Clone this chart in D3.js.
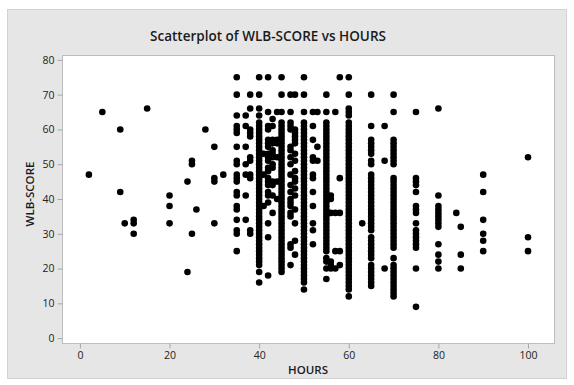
<!DOCTYPE html>
<html>
<head>
<meta charset="utf-8">
<script src="https://cdn.jsdelivr.net/npm/d3@7"></script>
<style>
  body { margin: 0; background: #fff; }
  svg { display: block; font-family: "Open Sans", "Noto Sans", sans-serif; }
</style>
</head>
<body>
<svg id="chart" width="574" height="385"></svg>
<script>
// hours value of each column of points, and the WLB-SCORE values seen in that column
const hoursColumns = [2, 5, 9, 10, 12, 15, 20, 24, 25, 26, 28, 30, 32, 35, 37, 38, 40, 41, 42, 43, 44, 45, 47, 48, 50, 52, 53, 55, 56, 57, 58, 60, 63, 65, 68, 70, 75, 80, 84, 85, 90, 100];
const scoreColumns = [
  [47],
  [65],
  [60, 42],
  [33],
  [34, 33, 30],
  [66],
  [41, 38, 33],
  [45, 19],
  [51, 50, 30],
  [37],
  [60],
  [55, 46, 45, 33],
  [47],
  [75, 70, 64, 61, 60, 59, 55, 51, 50, 47, 46, 45, 42, 41, 38, 37, 34, 31, 30, 25],
  [64, 61, 55, 50, 47, 41, 34],
  [70, 66, 60, 59, 58, 52, 51, 47, 46, 31, 30],
  [75, 70, 66, 64, 62, 61, 60, 59, 58, 57, 56, 55, 54, 53, 52, 51, 50, 49, 48, 47, 46, 45, 44, 43, 42, 41, 40, 39, 38, 37, 36, 35, 34, 33, 32, 31, 30, 29, 28, 27, 26, 25, 24, 23, 22, 21, 19, 16],
  [53, 47, 38],
  [75, 65, 61, 60, 57, 56, 55, 53, 52, 51, 49, 48, 46, 45, 44, 42, 41, 39, 33, 29, 18],
  [63, 61, 57, 56, 54, 53, 52, 50, 49, 45, 44, 41, 36],
  [65, 57, 56, 52, 45, 40],
  [75, 70, 65, 62, 61, 60, 59, 58, 57, 56, 55, 54, 53, 52, 51, 50, 49, 48, 47, 46, 45, 44, 43, 42, 41, 40, 39, 38, 37, 36, 35, 34, 33, 32, 31, 30, 29, 28, 27, 26, 25, 24, 23, 22, 21, 20, 19],
  [70, 65, 62, 61, 60, 55, 54, 52, 50, 47, 44, 42, 40, 39, 38, 36, 35, 27, 26, 21],
  [70, 60, 59, 58, 57, 56, 53, 51, 48, 46, 45, 43, 41, 37, 33, 28, 24],
  [75, 70, 65, 62, 61, 60, 59, 58, 57, 56, 55, 54, 53, 52, 51, 50, 49, 48, 47, 46, 45, 44, 43, 42, 41, 40, 39, 38, 37, 36, 35, 34, 33, 32, 31, 30, 29, 28, 27, 26, 25, 24, 23, 22, 21, 20, 19, 18, 17, 16, 14],
  [65, 61, 57, 52, 51, 47, 46, 42, 38, 33, 31, 27],
  [65, 55, 51],
  [70, 65, 62, 61, 60, 59, 58, 57, 56, 55, 54, 53, 52, 51, 50, 49, 48, 47, 46, 45, 44, 43, 42, 41, 40, 39, 38, 37, 36, 35, 34, 33, 32, 31, 30, 29, 28, 27, 26, 25, 23, 22, 20, 17],
  [41, 40, 36, 22, 21, 20],
  [65, 36, 25, 20],
  [75, 46, 36, 25, 21],
  [75, 70, 66, 65, 64, 62, 61, 60, 59, 58, 57, 56, 55, 54, 53, 52, 51, 50, 49, 48, 47, 46, 45, 44, 43, 42, 41, 40, 39, 38, 37, 36, 35, 34, 33, 32, 31, 30, 29, 28, 27, 26, 25, 24, 23, 22, 21, 20, 19, 18, 17, 16, 15, 14, 12],
  [33],
  [70, 61, 57, 56, 55, 54, 53, 51, 50, 47, 46, 45, 44, 43, 42, 41, 40, 39, 38, 37, 36, 35, 34, 33, 32, 31, 29, 28, 27, 26, 25, 24, 23, 21, 20, 19, 18, 17, 16, 15],
  [61, 51, 20],
  [70, 65, 57, 56, 55, 54, 53, 52, 51, 50, 46, 45, 44, 43, 42, 41, 40, 39, 38, 37, 36, 35, 34, 33, 32, 31, 30, 29, 28, 27, 26, 23, 21, 20, 19, 18, 17, 16, 15, 14, 13, 12],
  [65, 46, 45, 44, 42, 38, 37, 36, 33, 31, 30, 29, 28, 27, 26, 20, 9],
  [66, 41, 38, 37, 36, 35, 34, 33, 32, 27, 24, 22, 20],
  [36],
  [32, 24, 20],
  [47, 42, 34, 30, 28, 25],
  [52, 29, 25]
];
const xTicks = [0, 20, 40, 60, 80, 100];
const yTicks = [0, 10, 20, 30, 40, 50, 60, 70, 80];

const points = hoursColumns.flatMap((h, i) => scoreColumns[i].map((s) => ({ hours: h, score: s })));

const svg = d3.select("#chart");
const plot = { left: 62, right: 554, top: 55, bottom: 343 };

const x = d3.scaleLinear().domain([-4, 105.8]).range([plot.left, plot.right]);
const y = d3.scaleLinear().domain([-1.4, 81.4]).range([plot.bottom, plot.top]);

// outer grey panel
svg.append("rect")
  .attr("x", 7.5).attr("y", 9.5)
  .attr("width", 559).attr("height", 369)
  .attr("fill", "#e6e6e6")
  .attr("stroke", "#d2d2d2");

svg.append("rect")
  .attr("x", plot.left + 0.5).attr("y", plot.top + 0.5)
  .attr("width", plot.right - plot.left).attr("height", plot.bottom - plot.top)
  .attr("fill", "#fff")
  .attr("stroke", "#bdbdbd");

const xAxis = svg.append("g")
  .attr("transform", `translate(0,${plot.bottom + 0.5})`)
  .call(d3.axisBottom(x).tickValues(xTicks).tickSize(5).tickPadding(3));
const yAxis = svg.append("g")
  .attr("transform", `translate(${plot.left + 0.5},0)`)
  .call(d3.axisLeft(y).tickValues(yTicks).tickSize(5).tickPadding(3));

[xAxis, yAxis].forEach((g) => {
  g.select(".domain").remove();
  g.selectAll(".tick line").attr("stroke", "#a8a8a8");
  g.selectAll(".tick text")
    .attr("fill", "#222")
    .attr("font-size", 10.5)
    .attr("font-family", "'Open Sans', 'Noto Sans', sans-serif");
});

svg.append("g")
  .selectAll("circle")
  .data(points)
  .join("circle")
  .attr("cx", (d) => x(d.hours))
  .attr("cy", (d) => y(d.score))
  .attr("r", 3.3)
  .attr("fill", "#000");

svg.append("text")
  .attr("x", 268).attr("y", 41)
  .attr("text-anchor", "middle")
  .attr("font-size", 13.5)
  .attr("font-weight", 600)
  .attr("fill", "#1a1a1a")
  .text("Scatterplot of WLB-SCORE vs HOURS");

svg.append("text")
  .attr("x", (plot.left + plot.right) / 2).attr("y", 374)
  .attr("text-anchor", "middle")
  .attr("font-size", 11.5)
  .attr("font-weight", 600)
  .attr("fill", "#1a1a1a")
  .text("HOURS");

svg.append("text")
  .attr("transform", `translate(34,${(plot.top + plot.bottom) / 2 - 5}) rotate(-90)`)
  .attr("text-anchor", "middle")
  .attr("font-size", 11.5)
  .attr("font-weight", 600)
  .attr("fill", "#1a1a1a")
  .text("WLB-SCORE");
</script>
</body>
</html>
